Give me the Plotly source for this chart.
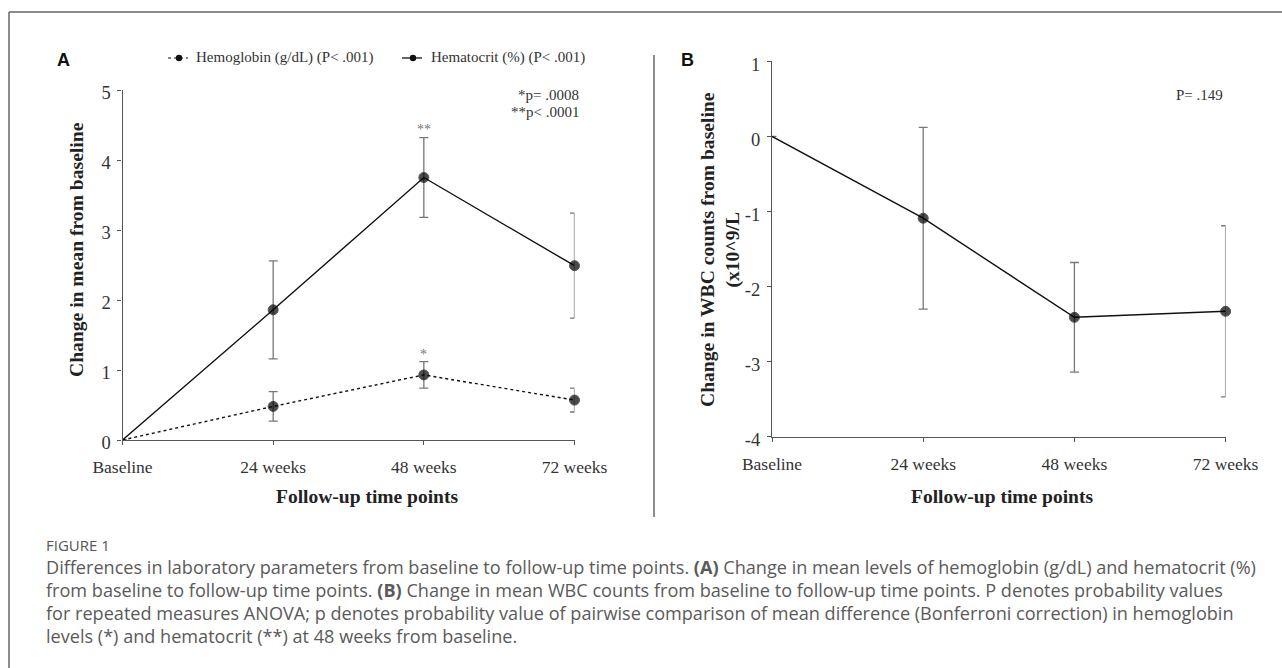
import plotly.graph_objects as go

# ---------------- data ----------------
time_points = ["Baseline", "24 weeks", "48 weeks", "72 weeks"]
hemoglobin = [0, 0.48, 0.93, 0.57]
hemoglobin_err = [None, 0.21, 0.19, 0.17]
hematocrit = [0, 1.86, 3.75, 2.49]
hematocrit_err = [None, 0.70, 0.57, 0.75]
wbc = [0, -1.09, -2.41, -2.33]
wbc_err = [None, 1.21, 0.73, 1.14]
yticks_a = [0, 1, 2, 3, 4, 5]
yticks_b = [-4, -3, -2, -1, 0, 1]
yticktext_b = ["-4", "-3", "-2", "-1", "0", "1"]

# ---------------- geometry helpers (page px -> paper) ----------------
W, H = 1282, 668
def PX(X):
    return X / W
def PY(Y):
    return 1 - Y / H

SERIF = "Liberation Serif"
SANS = "Liberation Sans"
CAP = "Open Sans"
AXC = "#555555"
TXT = "#333333"
ERRC = "#777777"

marker_sizes = [0, 10, 10, 10]

fig = go.Figure()

fig.add_trace(go.Scatter(
    x=time_points, y=hematocrit, mode="lines+markers", xaxis="x", yaxis="y",
    line=dict(color="#111111", width=1.4),
    marker=dict(color="#000000", size=marker_sizes),
    error_y=dict(type="data", array=hematocrit_err, color=ERRC, thickness=1.3, width=4.5),
    cliponaxis=False, showlegend=False, name="Hematocrit (%)"))
fig.add_trace(go.Scatter(
    x=time_points, y=hemoglobin, mode="lines+markers", xaxis="x", yaxis="y",
    line=dict(color="#111111", width=1.4, dash="dot"),
    marker=dict(color="#000000", size=marker_sizes),
    error_y=dict(type="data", array=hemoglobin_err, color=ERRC, thickness=1.3, width=4.5),
    cliponaxis=False, showlegend=False, name="Hemoglobin (g/dL)"))
fig.add_trace(go.Scatter(
    x=time_points, y=wbc, mode="lines+markers", xaxis="x2", yaxis="y2",
    line=dict(color="#111111", width=1.4),
    marker=dict(color="#000000", size=marker_sizes),
    error_y=dict(type="data", array=wbc_err, color=ERRC, thickness=1.3, width=4.5),
    cliponaxis=False, showlegend=False, name="WBC"))

axis_common = dict(showgrid=False, zeroline=False, showline=True, linecolor=AXC,
                   linewidth=1.3, ticks="outside", tickcolor=AXC, ticklen=4, tickwidth=1.2,
                   automargin=False)
xfont = dict(family=SERIF, size=17.5, color=TXT)
yfont = dict(family=SERIF, size=18.5, color=TXT)

fig.update_layout(
    width=W, height=H, margin=dict(l=0, r=0, t=0, b=0, pad=0, autoexpand=False),
    paper_bgcolor="white", plot_bgcolor="white", showlegend=False,
    xaxis=dict(domain=[PX(122.5), PX(574.5)], anchor="y", type="category",
               range=[0, 3], ticklabelstandoff=7, tickfont=xfont, **axis_common),
    yaxis=dict(domain=[PY(440), PY(90)], anchor="x", range=[0, 5],
               tickvals=yticks_a, ticklabelstandoff=3, ticklabelshift=3,
               tickfont=yfont, **axis_common),
    xaxis2=dict(domain=[PX(772), PX(1225.6)], anchor="y2", type="category",
                range=[0, 3], ticklabelstandoff=7, tickfont=xfont, **axis_common),
    yaxis2=dict(domain=[PY(436.7), PY(61.3)], anchor="x2", range=[-4, 1],
                tickvals=yticks_b, ticktext=yticktext_b, ticklabelstandoff=3,
                ticklabelshift=3, tickfont=yfont, **axis_common),
)

ann = []
def text(X, Y, s, size, family=SERIF, color=TXT, xanchor="center", angle=0, **kw):
    ann.append(dict(x=PX(X), y=PY(Y), xref="paper", yref="paper", text=s, showarrow=False,
                    xanchor=xanchor, yanchor="middle", textangle=angle,
                    font=dict(family=family, size=size, color=color), **kw))

# panel labels
text(55, 60, "<b>A</b>", 18, SANS, "#111111", xanchor="left")
text(679, 60, "<b>B</b>", 18, SANS, "#111111", xanchor="left")
# axis titles
text(367, 497, "<b>Follow-up time points</b>", 19.5, SERIF, "#222222")
text(1002, 497, "<b>Follow-up time points</b>", 19.5, SERIF, "#222222")
text(76, 250, "<b>Change in mean from baseline</b>", 19.6, SERIF, "#222222", angle=-90)
text(720, 250, "<b>Change in WBC counts from baseline<br>(x10^9/L</b>", 19.6, SERIF, "#222222", angle=-90)
# p-values
text(581, 95, "*p= .0008", 15, xanchor="right")
text(581, 112, "**p< .0001", 15, xanchor="right")
text(1199, 95, "P= .149", 15)
# significance marks
ann.append(dict(x=time_points[2], y=4.44, xref="x", yref="y", text="**", showarrow=False,
                yanchor="middle", font=dict(family=SERIF, size=14, color=ERRC)))
ann.append(dict(x=time_points[2], y=1.22, xref="x", yref="y", text="*", showarrow=False,
                yanchor="middle", font=dict(family=SERIF, size=14, color=ERRC)))
# legend text
text(194, 58, "Hemoglobin (g/dL) (P< .001)", 15, xanchor="left")
text(429, 58, "Hematocrit (%) (P< .001)", 15, xanchor="left")

# caption
text(44, 545, "FIGURE 1", 15, CAP, "#555555", xanchor="left")
caption_lines = [
    "Differences in laboratory parameters from baseline to follow-up time points. <b>(A)</b> Change in mean levels of hemoglobin (g/dL) and hematocrit (%)",
    "from baseline to follow-up time points. <b>(B)</b> Change in mean WBC counts from baseline to follow-up time points. P denotes probability values",
    "for repeated measures ANOVA; p denotes probability value of pairwise comparison of mean difference (Bonferroni correction) in hemoglobin",
    "levels (*) and hematocrit (**) at 48 weeks from baseline.",
]
for i, line in enumerate(caption_lines):
    text(44, 567 + 23 * i, line, 18.1, CAP, "#5a5a5a", xanchor="left")

fig.update_layout(annotations=ann)

# shapes: frame, separator, legend symbols
shapes = []
def line(X0, Y0, X1, Y1, color, width, dash="solid"):
    shapes.append(dict(type="line", xref="paper", yref="paper", x0=PX(X0), y0=PY(Y0),
                       x1=PX(X1), y1=PY(Y1), line=dict(color=color, width=width, dash=dash)))
def dot(X, Y, r):
    shapes.append(dict(type="circle", xref="paper", yref="paper", xsizemode="pixel",
                       ysizemode="pixel", xanchor=PX(X), yanchor=PY(Y), x0=-r, x1=r, y0=-r, y1=r,
                       fillcolor="#111111", line=dict(width=0)))

line(9, 12, 1282, 12, "#666666", 1.5)
line(9, 12, 9, 668, "#666666", 1.5)
line(654, 55, 654, 517, "#666666", 1.5)
line(168, 58, 188, 58, "#111111", 1.2, "dot")
dot(179, 58, 3.2)
line(402, 58, 422, 58, "#111111", 1.3)
dot(413, 58, 3.2)
fig.update_layout(shapes=shapes)

fig.write_html(
    "out.html",
    config={"displayModeBar": False},
    post_script="document.body.style.margin='0';document.body.style.overflow='hidden';"
                "document.documentElement.style.overflow='hidden';",
)
